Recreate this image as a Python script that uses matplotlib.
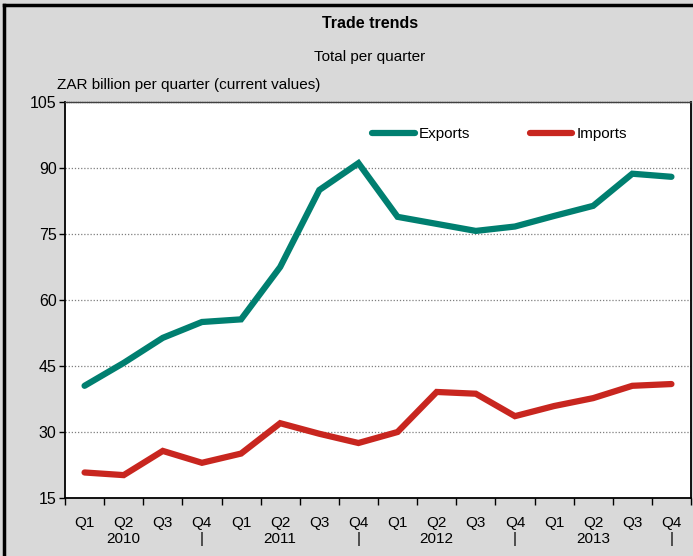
import numpy as np
import matplotlib.pyplot as plt
from matplotlib.lines import Line2D

plt.rcParams["font.family"] = ["Liberation Sans Narrow", "Liberation Sans", "DejaVu Sans"]

QUARTERS = ["Q1", "Q2", "Q3", "Q4"] * 4
YEAR_ROW = ["", "2010", "", "|", "", "2011", "", "|", "", "2012", "", "|", "", "2013", "", "|"]

EXPORTS = [40.5, 45.7, 51.4, 55.0, 55.6, 67.5, 85.0, 91.1,
           78.9, 77.3, 75.7, 76.7, 79.1, 81.4, 88.7, 88.0]
IMPORTS = [20.8, 20.2, 25.7, 23.0, 25.1, 32.0, 29.6, 27.5,
           30.0, 39.1, 38.7, 33.6, 35.9, 37.7, 40.5, 40.9]

EXPORT_COLOR = "#007f70"
IMPORT_COLOR = "#c8261f"
BG_COLOR = "#d9d9d9"


def main():
    fig = plt.figure(figsize=(6.93, 5.56), dpi=100, facecolor=BG_COLOR)
    ax = fig.add_axes([65 / 693, 58 / 556, 626 / 693, 396 / 556])
    ax.set_facecolor("white")

    x = np.arange(len(EXPORTS))
    ax.plot(x, EXPORTS, color=EXPORT_COLOR, lw=4.5, solid_capstyle="round",
            solid_joinstyle="miter", label="Exports", zorder=3)
    ax.plot(x, IMPORTS, color=IMPORT_COLOR, lw=4.5, solid_capstyle="round",
            solid_joinstyle="miter", label="Imports", zorder=3)

    ax.set_xlim(-0.5, len(EXPORTS) - 0.5)
    ax.set_ylim(15, 105)
    ax.set_yticks(np.arange(15, 106, 15))
    ax.tick_params(axis="y", direction="out", length=4, width=1, labelsize=11.5, pad=2)

    # category boundaries carry the ticks, labels sit in between
    ax.set_xticks(np.arange(-0.5, len(EXPORTS), 1.0))
    ax.set_xticklabels([])
    ax.set_xticks(x, minor=True)
    ax.set_xticklabels([f"{q}\n{y}" for q, y in zip(QUARTERS, YEAR_ROW)],
                       minor=True, fontsize=11, linespacing=1.2)
    ax.tick_params(axis="x", which="major", direction="out", length=5, width=1)
    ax.tick_params(axis="x", which="minor", length=0, pad=13)

    for v in range(30, 91, 15):
        ax.axhline(v, color="#7f7f7f", lw=0.9, ls=(0, (1, 1.5)), zorder=1)

    for side in ["left", "bottom", "right"]:
        ax.spines[side].set_color("black")
        ax.spines[side].set_linewidth(1.3)
    ax.spines["top"].set_color("#404040")
    ax.spines["top"].set_linewidth(1.0)
    ax.spines["top"].set_linestyle((0, (1, 0.6)))

    ax.legend(loc="center", bbox_to_anchor=(0.694, 0.918), ncol=2, frameon=False,
              fontsize=11, handlelength=2.8, handletextpad=0.25, columnspacing=3.9)

    fig.text(370 / 693, 1 - 23 / 556, "Trade trends", ha="center", va="center",
             fontsize=11.5, fontweight="bold")
    fig.text(370 / 693, 1 - 57 / 556, "Total per quarter", ha="center", va="center",
             fontsize=11)
    fig.text(57 / 693, 1 - 85 / 556, "ZAR billion per quarter (current values)",
             ha="left", va="center", fontsize=11)

    # outer frame, left and top edges
    fig.add_artist(Line2D([3.5 / 693, 3.5 / 693], [0, 1 - 5 / 556],
                          transform=fig.transFigure, color="black", lw=2.5))
    fig.add_artist(Line2D([3.5 / 693, 1], [1 - 5 / 556, 1 - 5 / 556],
                          transform=fig.transFigure, color="black", lw=2.5))

    fig.savefig("out.png", dpi=100, facecolor=BG_COLOR)


if __name__ == "__main__":
    main()
